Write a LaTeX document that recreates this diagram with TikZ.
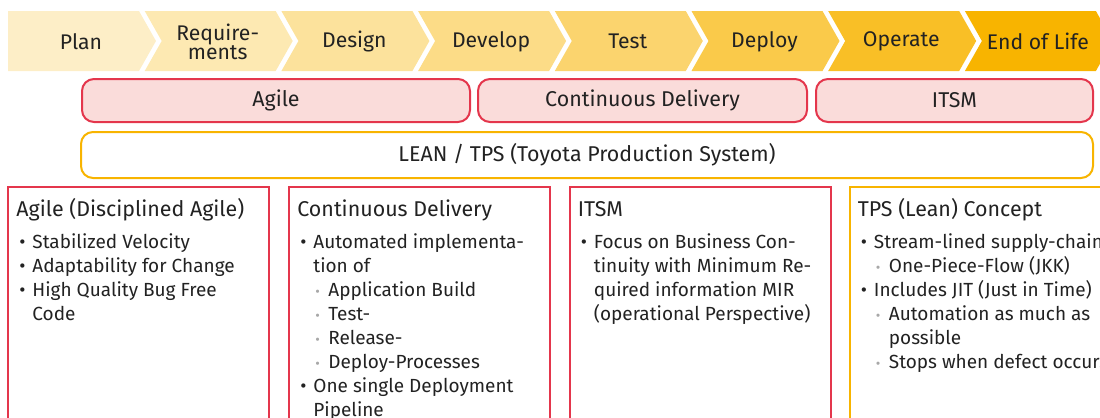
\documentclass[tikz,border=0pt]{standalone}
\usepackage{fontspec}
\setmainfont{Fira Sans}

\definecolor{lcamber}{HTML}{F8B400}
\definecolor{lcred}{HTML}{E4364C}
\definecolor{lcpink}{HTML}{FADCDA}
\definecolor{lctext}{HTML}{222222}
\definecolor{lcgray}{HTML}{A8A8A8}

\newcommand\lcitem{\strut\makebox[6.5pt][l]{\textbullet}}
\newcommand\lccont{\strut\hspace*{6.5pt}}
\newcommand\lcsub{\strut\hspace*{7.5pt}\makebox[6.5pt][l]{\textcolor{lcgray}{\scriptsize\textbullet}}}
\newcommand\lcsubcont{\strut\hspace*{14pt}}

\tikzset{
  phase/.style={inner sep=0pt, text=lctext, align=center, font=\fontsize{10.6}{9.5}\selectfont},
  stage/.style={draw=lcred, line width=1pt, fill=lcpink, rounded corners=6pt, minimum height=21.5pt,
    text=lctext, font=\fontsize{10.7}{13}\selectfont},
  lean/.style={stage, draw=lcamber, fill=white, minimum height=23pt},
  topic/.style={draw=lcred, line width=1pt, minimum width=130.5pt, minimum height=126pt},
  head/.style={anchor=base west, inner sep=0pt, text=lctext, font=\fontsize{10.7}{13}\selectfont},
  items/.style={anchor=north west, inner sep=0pt, text=lctext, align=left, font=\fontsize{9.5}{12}\selectfont}
}

\begin{document}
\begin{tikzpicture}[x=0.5pt,y=-0.5pt]
\useasboundingbox (0,0) rectangle (1100,418);
\clip (0,0) rectangle (1100,418);

\foreach \name/\lab/\pct [count=\i from 0] in {plan/Plan/22, req/{Require-\\ments}/30, design/Design/39,
    develop/Develop/47, test/Test/57, deploy/Deploy/71, operate/Operate/85, eol/End of Life/100} {
  \pgfmathsetmacro\lcleft{8+136.7*\i}
  \ifnum\i=0 \def\lcnotch{0}\else\def\lcnotch{17}\fi
  \fill[lcamber!\pct!white] (\lcleft,11) -- ++(131,0) -- ++(17,30) -- ++(-17,30) -- ++(-131,0)
    -- ++(\lcnotch,-30) -- cycle;
  \node[phase] (\name) at (\lcleft+73,41.5) {\lab};
}

\node[stage, minimum width=194pt] (agile) at (276,100.5) {Agile};
\node[stage, minimum width=164.5pt] (cd) at (642.5,100.5) {Continuous Delivery};
\node[stage, minimum width=138.5pt] (itsm) at (954.5,100.5) {ITSM};
\node[lean, minimum width=506pt] (leantps) at (587,155) {LEAN / TPS (Toyota Production System)};

\node[topic] (agilebox) at (138.5,313) {};
\node[head] (agilehead) at ([shift={(9,30)}]agilebox.north west) {Agile (Disciplined Agile)};
\node[items] (agilelist) at ([shift={(12,45)}]agilebox.north west) {%
  \lcitem Stabilized Velocity\\
  \lcitem Adaptability for Change\\
  \lcitem High Quality Bug Free\\
  \lccont Code};

\node[topic] (cdbox) at (419.5,313) {};
\node[head] (cdhead) at ([shift={(9,30)}]cdbox.north west) {Continuous Delivery};
\node[items] (cdlist) at ([shift={(12,45)}]cdbox.north west) {%
  \lcitem Automated implementa-\\
  \lccont tion of\\
  \lcsub Application Build\\
  \lcsub Test-\\
  \lcsub Release-\\
  \lcsub Deploy-Processes\\
  \lcitem One single Deployment\\
  \lccont Pipeline};

\node[topic] (itsmbox) at (700,313) {};
\node[head] (itsmhead) at ([shift={(9,30)}]itsmbox.north west) {ITSM};
\node[items] (itsmlist) at ([shift={(12,45)}]itsmbox.north west) {%
  \lcitem Focus on Business Con-\\
  \lccont tinuity with Minimum Re-\\
  \lccont quired information MIR\\
  \lccont (operational Perspective)};

\node[topic, draw=lcamber] (tpsbox) at (980,313) {};
\node[head] (tpshead) at ([shift={(9,30)}]tpsbox.north west) {TPS (Lean) Concept};
\node[items] (tpslist) at ([shift={(12,45)}]tpsbox.north west) {%
  \lcitem Stream-lined supply-chain\\
  \lcsub One-Piece-Flow (JKK)\\
  \lcitem Includes JIT (Just in Time)\\
  \lcsub Automation as much as\\
  \lcsubcont possible\\
  \lcsub Stops when defect occurs};
\end{tikzpicture}
\end{document}
